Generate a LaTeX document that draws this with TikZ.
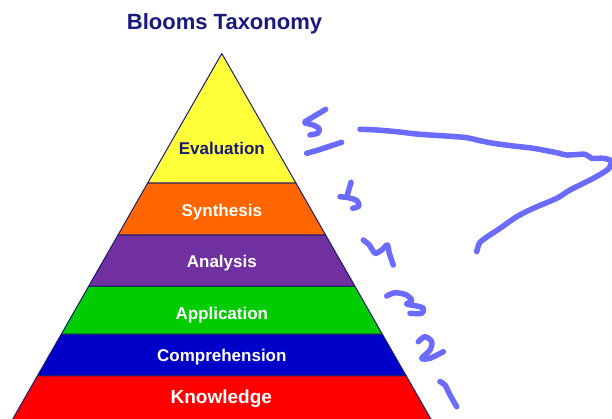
\documentclass[tikz,border=0pt]{standalone}
\usepackage{fontspec}
\setmainfont{Liberation Sans}
\definecolor{navy}{HTML}{1C1C6E}
\definecolor{titleblue}{HTML}{1A1A7E}
\definecolor{pyY}{HTML}{FFFF3A}
\definecolor{pyO}{HTML}{FF6600}
\definecolor{pyP}{HTML}{7030A0}
\definecolor{pyG}{HTML}{00CC00}
\definecolor{pyB}{HTML}{0000C8}
\definecolor{pyR}{HTML}{FF0000}
\definecolor{ink}{HTML}{6B6BFF}
\tikzset{
  layer/.style={draw=navy, line width=1pt, line join=round},
  lbl/.style={font=\bfseries\fontsize{17}{17}\selectfont, text=white, anchor=base, inner sep=0pt},
  pen/.style={draw=ink, line width=5.5pt, line cap=round, line join=round},
}
\begin{document}
\begin{tikzpicture}[x=1pt,y=-1pt]
\useasboundingbox (0,0) rectangle (612,419);
\clip (0,0) rectangle (612,419);
\fill[white] (0,0) rectangle (612,419);
% pyramid layers
\path[layer, fill=pyR] (37.6,375.5) -- (406.0,375.5) -- (434.3,425) -- (9.3,425) -- cycle;
\path[layer, fill=pyB] (61.4,334) -- (382.2,334) -- (406.0,375.5) -- (37.6,375.5) -- cycle;
\path[layer, fill=pyG] (88.8,286) -- (354.8,286) -- (382.2,334) -- (61.4,334) -- cycle;
\path[layer, fill=pyP] (118.0,235) -- (325.6,235) -- (354.8,286) -- (88.8,286) -- cycle;
\path[layer, fill=pyO] (147.7,183) -- (295.9,183) -- (325.6,235) -- (118.0,235) -- cycle;
\path[layer, fill=pyY] (221.8,53.5) -- (295.9,183) -- (147.7,183) -- cycle;
% labels
\node[font=\bfseries\fontsize{22}{22}\selectfont, text=titleblue, anchor=base, inner sep=0pt] (title) at (224.5,30) {Blooms Taxonomy};
\node[lbl, text=navy] (eval) at (221.8,155) {Evaluation};
\node[lbl] (syn) at (221.8,217) {Synthesis};
\node[lbl] (ana) at (221.8,267) {Analysis};
\node[lbl] (app) at (221.8,319) {Application};
\node[lbl] (comp) at (221.8,361.5) {Comprehension};
\node[lbl, font=\bfseries\fontsize{19}{19}\selectfont] (know) at (221.3,403.5) {Knowledge};
% hand-drawn annotations
% 5 (top)
\draw[pen] (325.7,109.3) -- (305,121.7);
\draw[pen] plot[smooth] coordinates {(305,123) (313,125) (319,128.5) (318,133) (310,135)};
\draw[pen] plot[smooth] coordinates {(306.7,153.3) (318.3,150) (328.3,146.7) (341.7,142.3)};
% long stroke
\draw[pen] plot[smooth, tension=0.5] coordinates {(360,129.3) (376.7,130) (396.7,131.7) (420,134.3) (463.3,137.3) (480,140.7) (493.3,143.3) (513.3,146) (533.3,148.3) (556.7,152.7) (566.7,155) (585,154.3) (591.7,158.3) (603.3,158.3) (611,161) (608.3,169) (593.3,178.3) (570,190) (556.7,198.3) (533.3,208.3) (516.7,216.7) (500,228.3) (485,238.3) (479.3,243.3) (476.7,251.7)};
% 5
\draw[pen] (351,182.3) -- (347.3,195);
\draw[pen] plot[smooth] coordinates {(340,196.7) (348.3,197.7) (356.7,200.5) (359,206) (352.7,208.3)};
% 4
\draw[pen] plot[smooth, tension=0.4] coordinates {(363.3,240) (369.3,245) (375,253.3) (381.7,250) (387.3,245) (389.3,253.3) (393.3,265)};
% 3
\draw[pen] plot[smooth, tension=0.5] coordinates {(386.7,296) (395,292.7) (406.7,295) (411.7,300.7) (406.7,304) (416.7,306) (423.3,308.3) (421.7,313.3) (410,313.3)};
% 2
\draw[pen] plot[smooth, tension=0.5] coordinates {(418.3,341.7) (425,336.7) (431.7,341.7) (430,350) (421.7,358.3) (430,358.3) (443.3,351.7)};
% 1
\draw[pen] plot[smooth] coordinates {(440,381.7) (445,385) (450,395) (456.7,406.7)};
\end{tikzpicture}
\end{document}
